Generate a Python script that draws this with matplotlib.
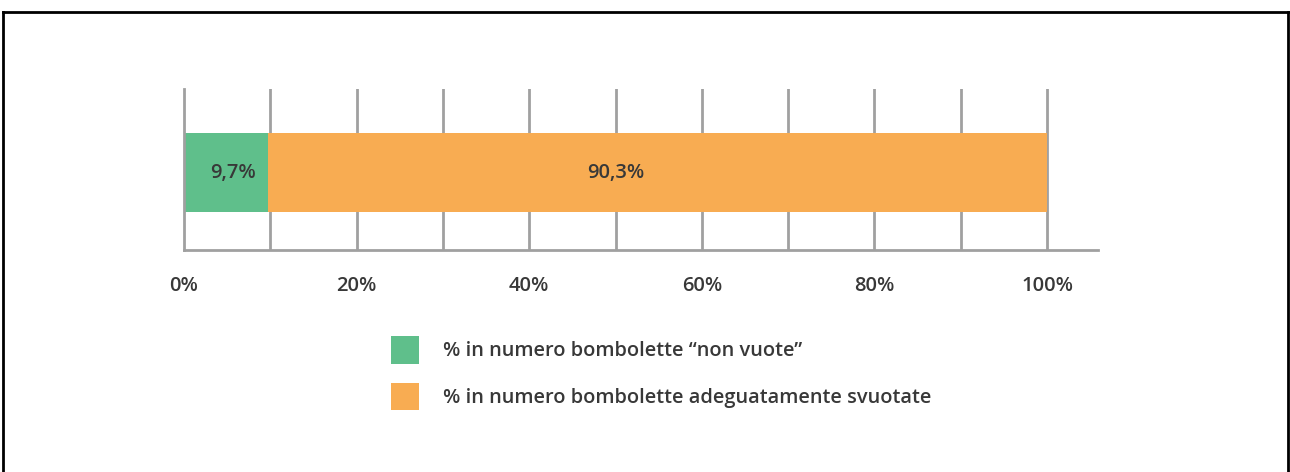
import matplotlib.pyplot as plt
from matplotlib.lines import Line2D

# data
series_labels = [
    "% in numero bombolette \u201cnon vuote\u201d",
    "% in numero bombolette adeguatamente svuotate",
]
series_values = [9.7, 90.3]
value_labels = ["9,7%", "90,3%"]
label_x = [5.7, 50.0]  # where the value text sits along the bar
tick_values = [0, 20, 40, 60, 80, 100]
tick_labels = ["0%", "20%", "40%", "60%", "80%", "100%"]
grid_values = [10, 20, 30, 40, 50, 60, 70, 80, 90, 100]

colors = ["#5FBF8B", "#F8AC52"]
text_color = "#383838"
grid_color = "#a0a0a0"

plt.rcParams["font.family"] = ["Open Sans", "DejaVu Sans"]
FS = 14.5
LEG_FS = 14.4

fig = plt.figure(figsize=(12.9, 4.72), dpi=100)
ax = fig.add_axes([184 / 1290, 1 - 250 / 472, (1098 - 184) / 1290, 161 / 472])

# vertical grid lines
for g in grid_values:
    ax.axvline(g, color=grid_color, lw=2, zorder=0)

# stacked bar
left = 0
for val, lab, col in zip(series_values, series_labels, colors):
    ax.barh(0.48, val, left=left, height=0.49, color=col, label=lab, zorder=2)
    left += val

for x, txt in zip(label_x, value_labels):
    ax.text(x, 0.48, txt, ha="center", va="center", fontsize=FS,
            fontweight="semibold", color=text_color, zorder=3)

ax.set_xlim(0, 105.9)
ax.set_ylim(0, 1)
ax.set_yticks([])
ax.set_xticks(tick_values)
ax.set_xticklabels(tick_labels)
ax.tick_params(axis="x", length=0, pad=19, labelsize=FS, labelcolor=text_color)
for t in ax.get_xticklabels():
    t.set_fontweight("semibold")

for side in ["top", "right"]:
    ax.spines[side].set_visible(False)
ax.spines["bottom"].set_color(grid_color)
ax.spines["bottom"].set_linewidth(2)
ax.spines["left"].set_color(grid_color)
ax.spines["left"].set_linewidth(2)

leg = fig.legend(
    loc="upper left",
    bbox_to_anchor=(391 / 1290, 1 - 336 / 472),
    frameon=False,
    borderpad=0,
    borderaxespad=0,
    handlelength=1.4,
    handleheight=1.77,
    handletextpad=1.2,
    labelspacing=0.93,
    fontsize=LEG_FS,
)
for t in leg.get_texts():
    t.set_color(text_color)
    t.set_fontweight("semibold")

# outer frame (left, top, right)
frame_kw = dict(color="black", lw=2, transform=fig.transFigure)
fig.add_artist(Line2D([3 / 1290, 3 / 1290], [0, 1 - 12 / 472], **frame_kw))
fig.add_artist(Line2D([3 / 1290, 1288 / 1290], [1 - 12 / 472, 1 - 12 / 472], **frame_kw))
fig.add_artist(Line2D([1288 / 1290, 1288 / 1290], [0, 1 - 12 / 472], **frame_kw))

fig.savefig("out.png", dpi=100)
